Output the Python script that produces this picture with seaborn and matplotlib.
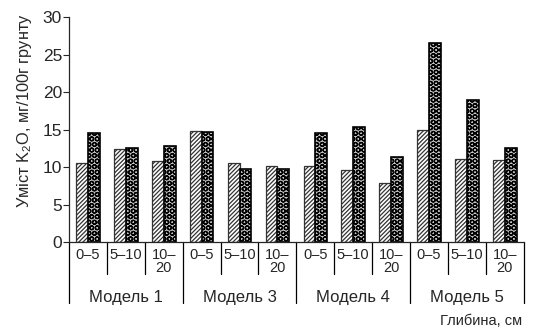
import numpy as np
import pandas as pd
import matplotlib
matplotlib.use("Agg")
import matplotlib.pyplot as plt
import matplotlib.transforms as mtransforms
import seaborn as sns

# values (mg K2O / 100 g soil)
models = ["Модель 1", "Модель 3", "Модель 4", "Модель 5"]
depths = ["0–5", "5–10", "10–\n20"]
series_a = [10.5, 12.4, 10.8, 14.8, 10.5, 10.2, 10.2, 9.6, 7.9, 15.0, 11.1, 10.9]
series_b = [14.6, 12.5, 12.8, 14.7, 9.8, 9.8, 14.6, 15.4, 11.4, 26.5, 19.0, 12.5]
series_names = ["ряд 1", "ряд 2"]

cats = [f"{m} {d}" for m in models for d in depths]
df = pd.DataFrame({
    "cat": cats * 2,
    "value": series_a + series_b,
    "series": [series_names[0]] * len(cats) + [series_names[1]] * len(cats),
})

sns.set_style("ticks")
plt.rcParams["font.family"] = ["Liberation Sans", "DejaVu Sans"]
plt.rcParams["mathtext.fontset"] = "custom"
plt.rcParams["mathtext.rm"] = "Liberation Sans"
plt.rcParams["mathtext.it"] = "Liberation Sans:italic"
plt.rcParams["hatch.linewidth"] = 0.9

fig = plt.figure(figsize=(5.35, 3.33), dpi=100)
ax = fig.add_axes([0.129, 0.273, 0.850, 0.676])

sns.barplot(data=df, x="cat", y="value", hue="series", order=cats,
            hue_order=series_names, width=0.62, dodge=True, ax=ax,
            palette=["white", "#1a1a1a"], edgecolor="black", linewidth=0.9,
            legend=False)

n = len(cats)
for i, p in enumerate(ax.patches[:2 * n]):
    if i < n:
        p.set_hatch("////////")
        p.set_facecolor("white")
        p.set_edgecolor("#333333")
    else:
        p.set_facecolor("#c4c4c4")
        p.set_hatch("OOO")
        p.set_edgecolor("black")
        p.set_linewidth(1.2)

ax.set_xlim(-0.5, n - 0.5)
ax.set_ylim(0, 30)
ax.set_yticks(np.arange(0, 31, 5))
ax.tick_params(axis="y", labelsize=12.5, length=4, width=0.8, direction="out", pad=1)
ax.set_xticks([])
ax.set_xlabel("")
ax.set_ylabel("Уміст K$_2$O, мг/100г грунту", fontsize=11.8)
ax.yaxis.set_label_coords(-0.077, 0.585)
sns.despine(ax=ax)
for s in ["left", "bottom"]:
    ax.spines[s].set_linewidth(0.9)

trans = mtransforms.blended_transform_factory(ax.transData, ax.transAxes)
# separators under the axis
for k in range(n + 1):
    x = k - 0.5
    bottom = -0.27 if k % 3 == 0 else -0.14
    ax.plot([x, x], [0, bottom], color="black", lw=0.9, transform=trans, clip_on=False)

for i, c in enumerate(cats):
    d = depths[i % 3]
    ax.text(i, -0.025, d, transform=trans, ha="center", va="top",
            fontsize=10.5, linespacing=0.9)

for j, m in enumerate(models):
    ax.text(3 * j + 1, -0.245, m, transform=trans, ha="center", va="center",
            fontsize=12)

fig.text(0.976, 0.015, "Глибина, см", ha="right", va="bottom", fontsize=10.5)

fig.savefig("out.png", dpi=100)
